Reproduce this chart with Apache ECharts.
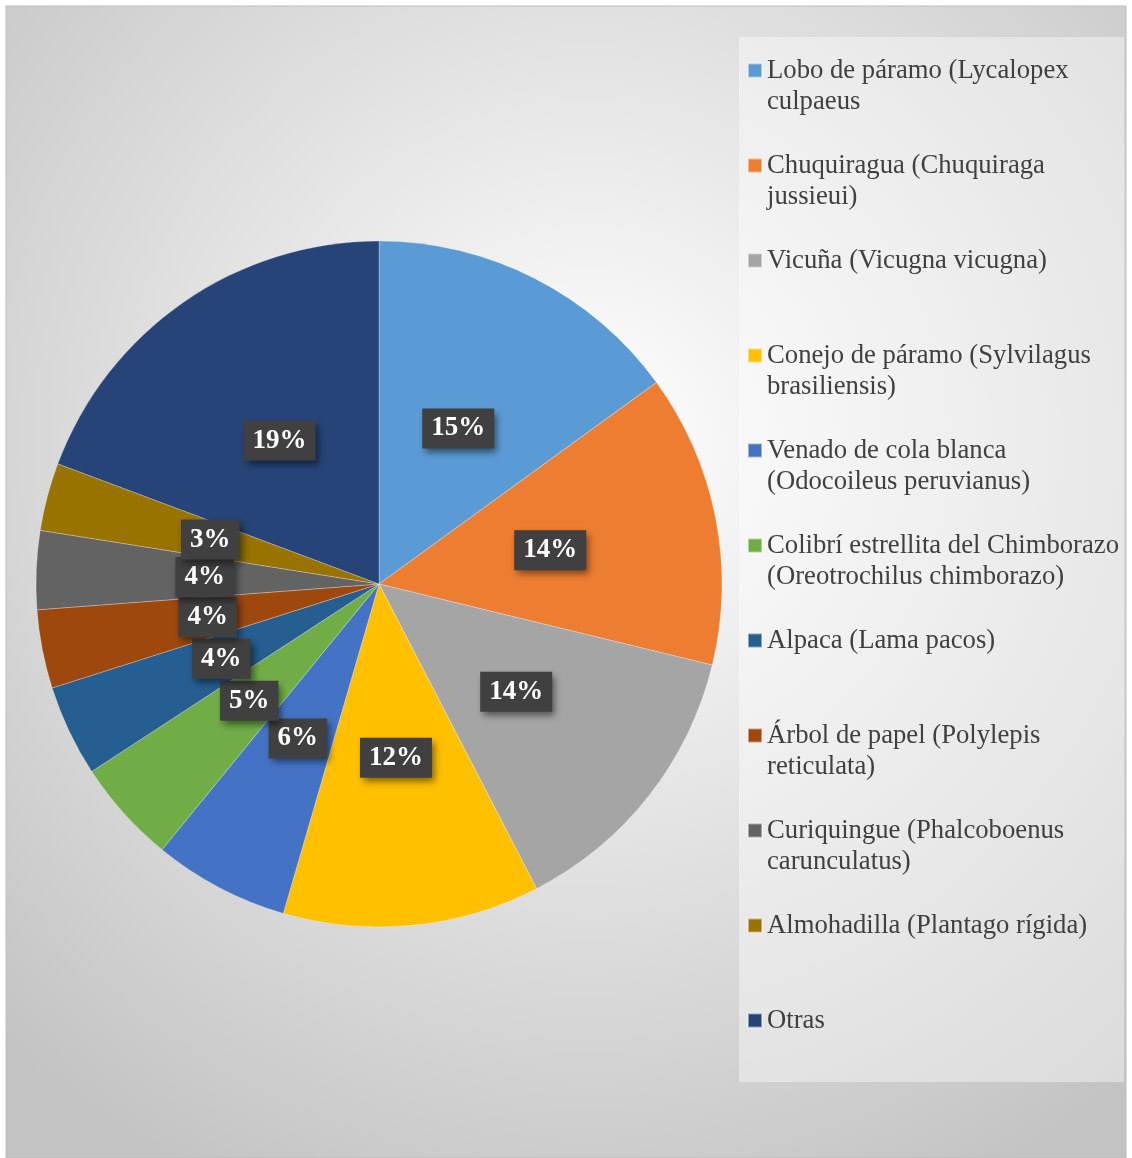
<!DOCTYPE html>
<html>
<head>
<meta charset="utf-8">
<script src="https://cdn.jsdelivr.net/npm/echarts@6/dist/echarts.min.js"></script>
<style>
  html, body { margin: 0; padding: 0; background: #ffffff; }
  #main { width: 1132px; height: 1158px; }
</style>
</head>
<body>
<div id="main"></div>
<script>
// especies (nombre completo) y su porcentaje
const especies = [
  'Lobo de páramo (Lycalopex culpaeus',
  'Chuquiragua (Chuquiraga jussieui)',
  'Vicuña (Vicugna vicugna)',
  'Conejo de páramo (Sylvilagus brasiliensis)',
  'Venado de cola blanca (Odocoileus peruvianus)',
  'Colibrí estrellita del Chimborazo (Oreotrochilus chimborazo)',
  'Alpaca (Lama pacos)',
  'Árbol de papel (Polylepis reticulata)',
  'Curiquingue (Phalcoboenus carunculatus)',
  'Almohadilla (Plantago rígida)',
  'Otras'
];
// cómo se parte cada nombre en la leyenda
const leyendaLineas = [
  ['Lobo de páramo (Lycalopex', 'culpaeus'],
  ['Chuquiragua (Chuquiraga', 'jussieui)'],
  ['Vicuña (Vicugna vicugna)', ' '],
  ['Conejo de páramo (Sylvilagus', 'brasiliensis)'],
  ['Venado de cola blanca', '(Odocoileus peruvianus)'],
  ['Colibrí estrellita del Chimborazo', '(Oreotrochilus chimborazo)'],
  ['Alpaca (Lama pacos)', ' '],
  ['Árbol de papel (Polylepis', 'reticulata)'],
  ['Curiquingue (Phalcoboenus', 'carunculatus)'],
  ['Almohadilla (Plantago rígida)', ' '],
  ['Otras', ' ']
];
const valores = [15.0, 13.8, 13.6, 12.1, 6.4, 4.9, 4.3, 3.7, 3.7, 3.2, 19.3];
const colores = ['#5B9BD5', '#ED7D31', '#A5A5A5', '#FFC000', '#4472C4', '#70AD47',
                 '#255E91', '#9E480E', '#636363', '#997300', '#264478'];

const serif = '"Liberation Serif", "Times New Roman", serif';

// cuadrado arriba + línea de largo cero abajo, para que el icono quede a la altura de la 1ª línea
const iconoLeyenda = 'path://M0,0h14v14h-14z M0,45L0,45';

const chart = echarts.init(document.getElementById('main'));
chart.setOption({
  animation: false,
  color: colores,
  graphic: [
    {
      type: 'rect',
      z: -10,
      shape: { x: 6, y: 6, width: 1120, height: 1152 },
      style: {
        fill: new echarts.graphic.RadialGradient(0.52, 0.38, 0.75, [
          { offset: 0, color: '#ffffff' },
          { offset: 1, color: '#c3c3c3' }
        ]),
        stroke: '#bdbdbd',
        lineWidth: 1
      }
    },
    {
      type: 'rect',
      z: -9,
      shape: { x: 739, y: 37, width: 385, height: 1045 },
      style: { fill: 'rgba(255,255,255,0.4)' }
    }
  ],
  legend: {
    orient: 'vertical',
    left: 747,
    top: 55,
    padding: 0,
    itemGap: 33,
    itemWidth: 14,
    itemHeight: 45,
    icon: iconoLeyenda,
    data: especies,
    formatter: function (name) {
      return leyendaLineas[especies.indexOf(name)].join('\n');
    },
    textStyle: {
      fontFamily: serif,
      fontSize: 26.7,
      lineHeight: 31,
      color: '#404040'
    }
  },
  series: [
    {
      type: 'pie',
      center: [379, 584],
      radius: 343,
      startAngle: 90,
      clockwise: true,
      avoidLabelOverlap: false,
      data: especies.map((n, i) => ({ name: n, value: valores[i] })),
      itemStyle: {
        borderColor: 'rgba(255,255,255,0.45)',
        borderWidth: 0.6
      },
      label: {
        position: 'inside',
        formatter: p => Math.round(p.percent) + '%',
        fontFamily: serif,
        fontWeight: 'bold',
        fontSize: 27,
        lineHeight: 28,
        color: '#ffffff',
        backgroundColor: '#404040',
        padding: [6, 9, 6, 9],
        shadowColor: 'rgba(0,0,0,0.5)',
        shadowBlur: 7,
        shadowOffsetX: 3,
        shadowOffsetY: 4
      },
      labelLayout: { hideOverlap: false },
      labelLine: { show: false },
      emphasis: { disabled: true }
    }
  ]
});
</script>
</body>
</html>
